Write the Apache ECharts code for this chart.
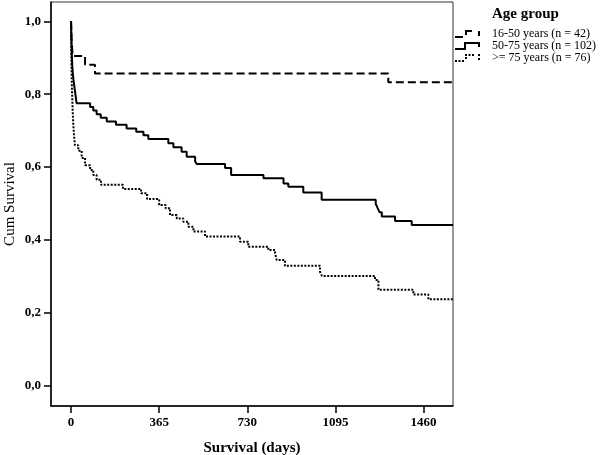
<!DOCTYPE html>
<html>
<head>
<meta charset="utf-8">
<script src="https://cdn.jsdelivr.net/npm/echarts@6/dist/echarts.min.js"></script>
<style>html,body{margin:0;padding:0;background:#fff}#chart{width:600px;height:455px}</style>
</head>
<body>
<div id="chart"></div>
<script>
// ---- data ----
const seriesNames = ['16-50 years (n = 42)', '50-75 years (n = 102)', '>= 75 years (n = 76)'];
const xTicks = [0, 365, 730, 1095, 1460];
const yTicks = [0, 0.2, 0.4, 0.6, 0.8, 1.0];

const g1Days = [0, 1, 2, 4, 7, 58, 99, 1314, 1582];
const g1Surv = [1.0, 0.976, 0.952, 0.929, 0.905, 0.881, 0.857, 0.833, 0.833];

const g2Days = [0, 1, 2, 3, 5, 7, 10, 14, 18, 23, 79, 92, 106, 123, 148, 186, 230, 270, 300, 320,
  403, 424, 458, 479, 514, 521, 638, 663, 797, 880, 900, 962, 1038, 1262, 1270, 1278, 1287, 1342, 1411, 1582];
const g2Surv = [1.0, 0.97, 0.94, 0.91, 0.88, 0.86, 0.84, 0.82, 0.80, 0.775, 0.765, 0.755, 0.745, 0.735, 0.725, 0.716, 0.706, 0.697, 0.687, 0.677,
  0.665, 0.654, 0.642, 0.628, 0.615, 0.608, 0.597, 0.578, 0.569, 0.555, 0.546, 0.530, 0.510, 0.499, 0.487, 0.476, 0.464, 0.452, 0.441, 0.441];

const g3Days = [0, 1, 2, 3, 5, 7, 9, 12, 16, 30, 44, 58, 79, 92, 106, 124, 215, 290, 315, 365, 392, 410, 438, 465, 486, 507, 555,
  700, 734, 817, 845, 852, 886, 1031, 1039, 1259, 1273, 1418, 1480, 1582];
const g3Surv = [1.0, 0.93, 0.87, 0.83, 0.79, 0.75, 0.72, 0.69, 0.66, 0.645, 0.625, 0.605, 0.592, 0.578, 0.565, 0.551, 0.540, 0.528, 0.512, 0.496, 0.487, 0.468, 0.459, 0.450, 0.436, 0.423, 0.409,
  0.395, 0.381, 0.372, 0.363, 0.345, 0.329, 0.313, 0.301, 0.290, 0.263, 0.250, 0.237, 0.237];

// ---- build ----
const pair = (d, s) => d.map((v, i) => [v, s[i]]);
const FONT = 'Liberation Serif';
const icons = [
  'path://M0,6H8V8H0Z M10,0H17V2H12V5H10Z M23,1H25V6H23Z',
  'path://M0,6H9V0H25V5H23V2H11V8H0Z',
  'path://M0,6h2v2h-2z M3.5,6h2v2h-2z M7,6h2v2h-2z M10,3h2v2h-2z M10,0h2v2h-2z M13.5,0h2v2h-2z M17,0h2v2h-2z M23,0h2v2h-2z M23,4h2v2h-2z'
];
const styles = [
  {type: [8, 4], width: 2},
  {type: 'solid', width: 2},
  {type: [2, 1.5], width: 2}
];
const datasets = [pair(g1Days, g1Surv), pair(g2Days, g2Surv), pair(g3Days, g3Surv)];

const chart = echarts.init(document.getElementById('chart'), null, {renderer: 'canvas'});
chart.setOption({
  animation: false,
  backgroundColor: '#fff',
  title: {
    text: 'Age group', left: 492, top: 7, padding: 0,
    textStyle: {fontFamily: FONT, fontSize: 15, fontWeight: 'bold', color: '#000'}
  },
  legend: {
    orient: 'vertical', left: 455, top: 28, padding: 0,
    itemWidth: 25, itemHeight: 8, itemGap: 0, symbolKeepAspect: false,
    data: seriesNames.map((n, i) => ({name: n, icon: icons[i]})),
    textStyle: {fontFamily: FONT, fontSize: 12, color: '#000', lineHeight: 12, padding: [0, 0, 0, 7]}
  },
  grid: {left: 51, right: 147, top: 2, bottom: 49, show: true, borderColor: '#333', borderWidth: 1,
    containLabel: false, outerBoundsMode: 'none'},
  xAxis: {
    type: 'value', min: -83, max: 1582,
    name: 'Survival (days)', nameLocation: 'middle', nameGap: 35, nameMoveOverlap: false,
    nameTextStyle: {fontFamily: FONT, fontSize: 15, fontWeight: 'bold', color: '#000'},
    axisLine: {show: true, onZero: false, lineStyle: {color: '#000', width: 1.5}},
    axisTick: {show: true, inside: false, length: 7, customValues: xTicks, lineStyle: {color: '#000', width: 1.5}},
    axisLabel: {customValues: xTicks, margin: 10, fontFamily: FONT, fontSize: 13, fontWeight: 'bold', color: '#000',
      formatter: v => String(v)},
    splitLine: {show: false}
  },
  yAxis: {
    type: 'value', min: -0.056, max: 1.053,
    name: 'Cum Survival', nameLocation: 'middle', nameGap: 33, nameRotate: 90, nameMoveOverlap: false,
    nameTextStyle: {fontFamily: FONT, fontSize: 15, color: '#000'},
    axisLine: {show: true, onZero: false, lineStyle: {color: '#000', width: 1.5}},
    axisTick: {show: true, inside: false, length: 7, customValues: yTicks, lineStyle: {color: '#000', width: 1.5}},
    axisLabel: {customValues: yTicks, margin: 10, fontFamily: FONT, fontSize: 13, fontWeight: 'bold', color: '#000',
      formatter: v => Number(v).toFixed(1).replace('.', ',')},
    splitLine: {show: false}
  },
  series: seriesNames.map((n, i) => ({
    name: n, type: 'line', step: 'end', showSymbol: false, symbol: 'none',
    data: datasets[i],
    itemStyle: {color: '#000'},
    lineStyle: {color: '#000', width: styles[i].width, type: styles[i].type, cap: 'butt'}
  }))
});
</script>
</body>
</html>
